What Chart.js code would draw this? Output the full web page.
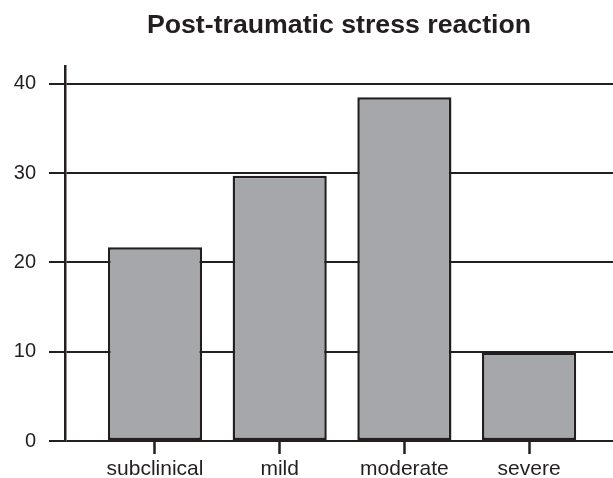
<!DOCTYPE html>
<html>
<head>
<meta charset="utf-8">
<script src="https://cdn.jsdelivr.net/npm/chart.js@4"></script>
<style>
  html, body { margin: 0; padding: 0; background: #ffffff; }
  #wrap { width: 613px; height: 478px; position: relative; }
</style>
</head>
<body>
<div id="wrap"><canvas id="c"></canvas></div>
<script>
const categories = ['subclinical', 'mild', 'moderate', 'severe'];
const values = [21.7, 29.7, 38.5, 9.9];
const yTickValues = [0, 10, 20, 30, 40];
const titleText = 'Post-traumatic stress reaction';

const ink = '#231f20';
const barFill = '#a6a7ab';
const fontFamily = "'Liberation Sans', Arial, sans-serif";

new Chart(document.getElementById('c'), {
  type: 'bar',
  data: {
    datasets: [{
      data: values.map((v, i) => ({ x: i, y: v })),
      backgroundColor: barFill,
      borderColor: ink,
      borderWidth: 2.5,
      borderSkipped: false,
      barPercentage: 0.755,
      categoryPercentage: 1
    }]
  },
  options: {
    responsive: true,
    maintainAspectRatio: false,
    animation: false,
    devicePixelRatio: 1,
    layout: { padding: { left: 14, right: 0, top: 0, bottom: 0 } },
    plugins: {
      legend: { display: false },
      tooltip: { enabled: false },
      title: {
        display: true,
        text: titleText,
        fullSize: false,
        color: ink,
        font: { family: fontFamily, size: 26.7, weight: 'bold', lineHeight: 1.2 },
        padding: { top: 10, bottom: 24 }
      }
    },
    scales: {
      x: {
        type: 'linear',
        min: -0.7217,
        max: 3.673,
        offset: false,
        afterBuildTicks: (axis) => { axis.ticks = categories.map((_, i) => ({ value: i })); },
        afterFit: (axis) => {
          axis.height = 37;
          axis.paddingLeft = 0;
          axis.paddingRight = 0;
        },
        grid: {
          display: true,
          offset: false,
          drawOnChartArea: false,
          drawTicks: true,
          tickLength: 13,
          tickWidth: 2.5,
          tickColor: ink,
          color: ink
        },
        border: { display: false },
        ticks: {
          autoSkip: false,
          maxRotation: 0,
          padding: 7,
          color: ink,
          font: { family: fontFamily, size: 21, lineHeight: 0.8 },
          callback: (v) => categories[v]
        }
      },
      y: {
        min: 0,
        max: 42,
        afterBuildTicks: (axis) => { axis.ticks = yTickValues.map(v => ({ value: v })); },
        afterFit: (axis) => {
          axis.width = 51;
          axis.paddingTop = 0;
          axis.paddingBottom = 0;
        },
        grid: {
          color: ink,
          lineWidth: 2,
          drawTicks: true,
          tickLength: 16,
          tickWidth: 2,
          tickColor: ink
        },
        border: { display: true, color: ink, width: 2.5 },
        ticks: {
          padding: 13,
          color: ink,
          font: { family: fontFamily, size: 20 }
        }
      }
    }
  }
});
</script>
</body>
</html>
